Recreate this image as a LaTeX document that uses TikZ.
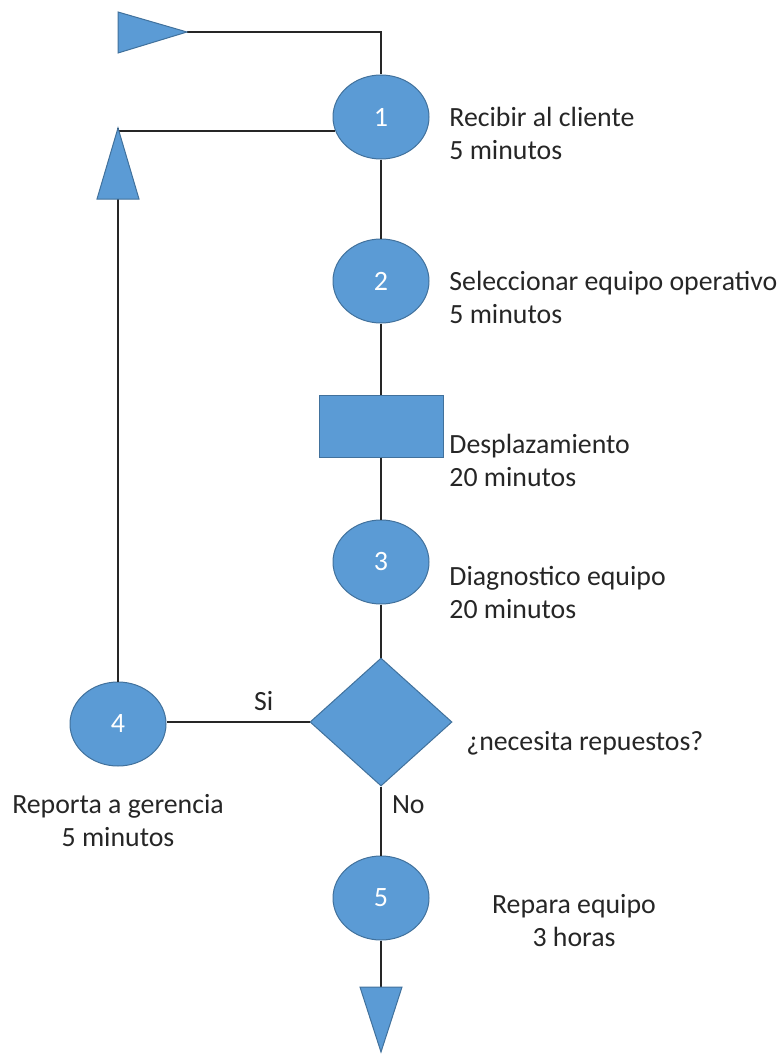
\documentclass[tikz,border=0pt]{standalone}
\usepackage{fontspec}
\setmainfont{Carlito}
\usetikzlibrary{shapes.geometric}
\definecolor{boxblue}{HTML}{5B9BD5}
\definecolor{boxedge}{HTML}{41719C}
\definecolor{linegray}{HTML}{262626}
\tikzset{
  shp/.style={fill=boxblue, draw=boxedge, line width=0.5pt, text=white, inner sep=0pt,
    font=\fontsize{14}{16.5}\selectfont},
  actnode/.style={shp, ellipse, minimum width=48pt, minimum height=42pt},
  transbox/.style={shp, rectangle, minimum width=62pt, minimum height=31pt},
  decbox/.style={shp, diamond, minimum width=71pt, minimum height=64pt},
  lbl/.style={inner sep=0pt, text=linegray, font=\fontsize{13.9}{16.5}\selectfont},
  conn/.style={draw=linegray, line width=1pt}
}
\begin{document}
\begin{tikzpicture}[x=0.5pt,y=-0.5pt]
\useasboundingbox (0,0) rectangle (780,1054);

\node[actnode] (n1) at (381,117) {1};
\node[actnode] (n2) at (381,281) {2};
\node[transbox] (mv) at (381,426) {};
\node[actnode] (n3) at (381,562) {3};
\node[decbox] (q) at (381,722) {};
\node[actnode] (n4) at (118,724) {4};
\node[actnode] (n5) at (381,898) {5};

\coordinate (start) at (187,32);
\coordinate (back) at (118,128);
\coordinate (stop) at (381,987);

% lines
\draw[conn] (start) -| (n1);
\draw[conn] (n1.197) -| (back);
\draw[conn] (n4) -- (back);
\draw[conn] (n1) -- (n2) -- (mv) -- (n3) -- (q);
\draw[conn] (q.west) -- node[lbl, above=5pt, pos=0.32] (si) {Si} (q.west -| n4.east);
\draw[conn] (q) -- node[lbl, right=5pt, pos=0.27] (no) {No} (n5);
\draw[conn] (n5) -- (stop);

% triangles
\filldraw[fill=boxblue, draw=boxedge, line width=0.5pt] (118,12) -- (start) -- (118,53) -- cycle;
\filldraw[fill=boxblue, draw=boxedge, line width=0.5pt] (97,199) -- (back) -- (139,199) -- cycle;
\filldraw[fill=boxblue, draw=boxedge, line width=0.5pt] (360,987) -- (402,987) -- (381,1052) -- cycle;

\node[lbl, anchor=west, align=left] (t1) at (449,133) {Recibir al cliente\\5 minutos};
\node[lbl, anchor=west, align=left] (t2) at (449,297) {Seleccionar equipo operativo\\5 minutos};
\node[lbl, anchor=west, align=left] (tm) at (449,460) {Desplazamiento\\20 minutos};
\node[lbl, anchor=west, align=left] (t3) at (449,592) {Diagnostico equipo\\20 minutos};
\node[lbl, anchor=west] (tq) at (466,743) {¿necesita repuestos?};
\node[lbl, align=center] (t4) at (118,821) {Reporta a gerencia\\5 minutos};
\node[lbl, align=center] (t5) at (574,921) {Repara equipo\\3 horas};
\end{tikzpicture}
\end{document}
